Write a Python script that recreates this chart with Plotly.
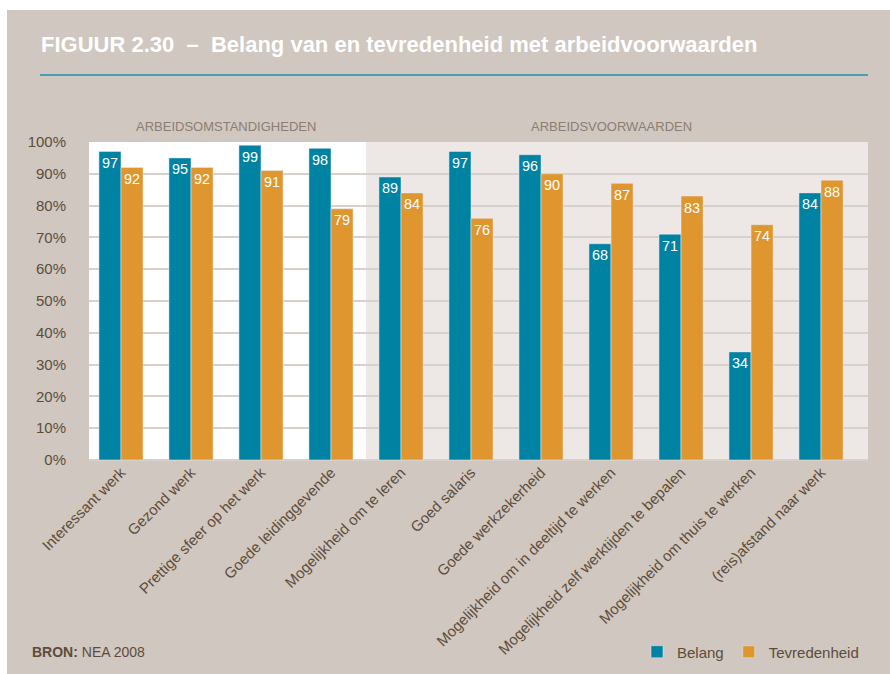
import plotly.graph_objects as go

categories = ["Interessant werk", "Gezond werk", "Prettige sfeer op het werk",
              "Goede leidinggevende", "Mogelijkheid om te leren", "Goed salaris",
              "Goede werkzekerheid", "Mogelijkheid om in deeltijd te werken",
              "Mogelijkheid zelf werktijden te bepalen",
              "Mogelijkheid om thuis te werken", "(reis)afstand naar werk"]
belang = [97, 95, 99, 98, 89, 97, 96, 68, 71, 34, 84]
tevredenheid = [92, 92, 91, 79, 84, 76, 90, 87, 83, 74, 88]
y_ticks = [0, 10, 20, 30, 40, 50, 60, 70, 80, 90, 100]
sections = ["ARBEIDSOMSTANDIGHEDEN", "ARBEIDSVOORWAARDEN"]

TEAL = "#0083a3"
ORANGE = "#e0962e"
PANEL = "#cfc7c0"
PLOT_BG = "#ede8e5"
GRID = "#d8d0ca"
BROWN = "#5e4c3a"
SECTION = "#8c7e72"
NARROW = "Liberation Sans Narrow, Arial Narrow, sans-serif"
BODY = "Liberation Sans, Arial, sans-serif"

# pixel layout of the plot area: x 89..868, y 142..460
L, R, T, B = 89, 868, 142, 460
W, H = 890, 674


def px_x(p):
    return (p - L) / (R - L)


def px_y(p):
    return (B - p) / (B - T)


x = list(range(len(categories)))

fig = go.Figure()
fig.add_trace(go.Bar(x=x, y=belang, name="Belang", marker_color=TEAL,
                     text=belang, textposition="inside", insidetextanchor="end",
                     textfont=dict(color="white", size=15, family=BODY),
                     textangle=0))
fig.add_trace(go.Bar(x=x, y=tevredenheid, name="Tevredenheid", marker_color=ORANGE,
                     text=tevredenheid, textposition="inside", insidetextanchor="end",
                     textfont=dict(color="white", size=15, family=BODY),
                     textangle=0))

x0, x1 = -0.457, 10.671
shapes = [
    # white margin strips outside the beige panel
    dict(type="rect", xref="paper", yref="paper", x0=px_x(0), x1=px_x(W),
         y0=px_y(10), y1=px_y(0), fillcolor="white", line_width=0, layer="below"),
    dict(type="rect", xref="paper", yref="paper", x0=px_x(0), x1=px_x(7),
         y0=px_y(H), y1=px_y(0), fillcolor="white", line_width=0, layer="below"),
    # white background behind first section
    dict(type="rect", xref="x", yref="paper", x0=x0, x1=3.5, y0=0, y1=1,
         fillcolor="white", line_width=0, layer="below"),
    # teal rule under the title
    dict(type="line", xref="paper", yref="paper", x0=px_x(40), x1=px_x(868),
         y0=px_y(75), y1=px_y(75), line=dict(color="#4a9db3", width=2)),
]

annotations = [
    dict(text="<b>FIGUUR 2.30  –  Belang van en tevredenheid met arbeidvoorwaarden</b>",
         xref="paper", yref="paper", x=px_x(39), y=px_y(44), xanchor="left",
         yanchor="middle", showarrow=False,
         font=dict(family=NARROW, size=22, color="white")),
    dict(text=sections[0], xref="x", yref="paper", x=1.5, y=px_y(117),
         showarrow=False, font=dict(family=NARROW, size=13, color=SECTION)),
    dict(text=sections[1], xref="x", yref="paper", x=7, y=px_y(117),
         showarrow=False, font=dict(family=NARROW, size=13, color=SECTION)),
    dict(text="<b>BRON:</b> NEA 2008", xref="paper", yref="paper", x=px_x(30),
         y=px_y(652), xanchor="left", yanchor="middle", showarrow=False,
         font=dict(family=BODY, size=14, color=BROWN)),
]

fig.update_layout(
    width=W, height=H,
    margin=dict(l=L, r=W - R, t=T, b=H - B, pad=0, autoexpand=False),
    paper_bgcolor=PANEL, plot_bgcolor=PLOT_BG,
    barmode="group", bargap=0.37, bargroupgap=0,
    showlegend=True,
    legend=dict(orientation="h", x=px_x(637), y=px_y(652), xanchor="left",
                yanchor="middle", bgcolor="rgba(0,0,0,0)",
                font=dict(family=BODY, size=15, color=BROWN),
                itemwidth=30, traceorder="normal"),
    xaxis=dict(range=[x0, x1], tickmode="array", tickvals=x, ticktext=categories,
               tickangle=-45, showgrid=False, zeroline=False, ticks="",
               automargin=False,
               tickfont=dict(family=BODY, size=15, color=BROWN)),
    yaxis=dict(range=[0, 100], tickmode="array", tickvals=y_ticks,
               ticktext=[f"{v}%" for v in y_ticks], showgrid=True, gridcolor=GRID,
               gridwidth=1.5, zeroline=True, zerolinecolor=GRID, zerolinewidth=2,
               ticks="", ticklabelstandoff=22, automargin=False,
               tickfont=dict(family=BODY, size=15, color=BROWN)),
    shapes=shapes, annotations=annotations,
    uniformtext=dict(mode=False),
)

fig.write_html("out.html", config={"displayModeBar": False},
               post_script="document.body.style.margin='0';document.body.style.overflow='hidden';")
